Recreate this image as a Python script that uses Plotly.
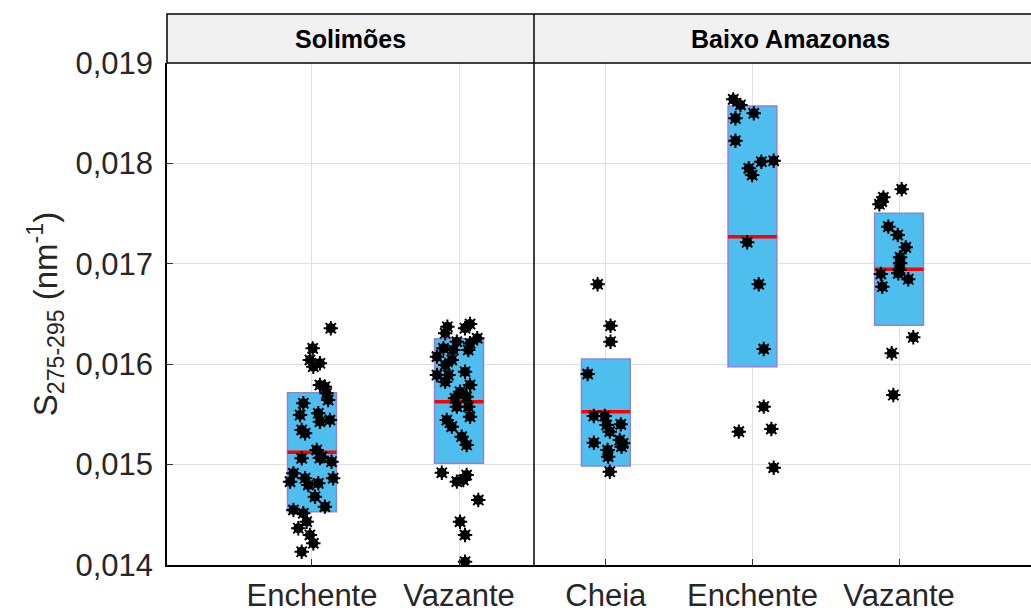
import plotly.graph_objects as go

# ---------------- data ----------------
sol_categories = ["Enchente", "Vazante"]
baixo_categories = ["Cheia", "Enchente", "Vazante"]

# box statistics (q1, median, q3)
sol_q1 = [0.014531, 0.015013]
sol_median = [0.015123, 0.015627]
sol_q3 = [0.015716, 0.016254]

baixo_q1 = [0.014986, 0.015975, 0.016387]
baixo_median = [0.015527, 0.017270, 0.016945]
baixo_q3 = [0.016052, 0.018572, 0.017503]

# individual observations
sol_enchente = [0.016358, 0.016158, 0.016042, 0.016009, 0.015975, 0.015793, 0.015776,
                0.015710, 0.015643, 0.015611, 0.015494, 0.015511, 0.015427, 0.015444,
                0.015345, 0.015312, 0.015145, 0.015079, 0.015063, 0.015029, 0.014913,
                0.014864, 0.014830, 0.014864, 0.014797, 0.014814, 0.014680, 0.014581,
                0.014548, 0.014515, 0.014431, 0.014366, 0.014299, 0.014216, 0.014132,
                0.015066]
sol_enchente_jitter = [0.128, 0.005, -0.014, 0.054, 0.009, 0.054, 0.088, 0.099, 0.110,
                       -0.059, -0.081, 0.043, 0.054, 0.122, -0.070, -0.047, 0.032, 0.066,
                       -0.070, 0.133, -0.126, -0.047, -0.149, 0.144, -0.025, 0.043, 0.020,
                       0.088, -0.126, -0.059, -0.036, -0.093, -0.014, 0.009, -0.070, 0.054]

sol_vazante = [0.016373, 0.016400, 0.016358, 0.016308, 0.016258, 0.016224, 0.016208,
               0.016158, 0.016141, 0.016141, 0.016075, 0.016042, 0.015992, 0.015925,
               0.015892, 0.015892, 0.015826, 0.015793, 0.015726, 0.015660, 0.015676,
               0.015577, 0.015577, 0.015477, 0.015444, 0.015378, 0.015278, 0.015195,
               0.014919, 0.014830, 0.014896, 0.014847, 0.014647, 0.014431, 0.014299,
               0.014033]
sol_vazante_jitter = [-0.079, 0.075, 0.041, -0.094, 0.124, -0.015, 0.075, -0.106, -0.038,
                      0.063, -0.150, -0.049, -0.094, 0.041, -0.150, -0.072, -0.094, 0.075,
                      0.007, -0.027, 0.052, -0.015, 0.063, 0.075, -0.083, -0.049, 0.018,
                      0.052, -0.117, -0.015, 0.052, 0.029, 0.131, 0.007, 0.041, 0.041]

baixo_cheia = [0.016796, 0.016383, 0.016224, 0.015902, 0.015484, 0.015484, 0.015394,
               0.015401, 0.015328, 0.015245, 0.015218, 0.015212, 0.015178, 0.015145,
               0.015079, 0.014929]
baixo_cheia_jitter = [-0.056, 0.032, 0.032, -0.124, -0.082, -0.007, 0.005, 0.102, 0.027,
                      0.095, -0.082, 0.118, 0.107, 0.012, 0.016, 0.027]

baixo_enchente = [0.018638, 0.018582, 0.018449, 0.018499, 0.018226, 0.018017, 0.018027,
                  0.017951, 0.017884, 0.017214, 0.016796, 0.016151, 0.015577, 0.015328,
                  0.015355, 0.014969]
baixo_enchente_jitter = [-0.131, -0.082, -0.116, 0.009, -0.116, 0.061, 0.145, -0.025,
                         -0.002, -0.036, 0.043, 0.077, 0.077, -0.093, 0.129, 0.145]

baixo_vazante = [0.017742, 0.017662, 0.017593, 0.017619, 0.017370, 0.017287, 0.017164,
                 0.017065, 0.017005, 0.016938, 0.016898, 0.016905, 0.016846, 0.016772,
                 0.016268, 0.016109, 0.015693]
baixo_vazante_jitter = [0.018, -0.107, -0.134, -0.118, -0.073, -0.009, 0.046, 0.007, 0.007,
                        0.002, -0.124, -0.005, 0.063, -0.114, 0.097, -0.050, -0.039]

y_ticks = [0.014, 0.015, 0.016, 0.017, 0.018, 0.019]
y_tick_labels = ["0,014", "0,015", "0,016", "0,017", "0,018", "0,019"]

panel_titles = ["Solimões", "Baixo Amazonas"]

# ---------------- styling ----------------
BOX_W = 0.333
BOX_FILL = "#4DBEEE"
BOX_LINE = "#8C84DA"
FONT = "Liberation Sans, Arial, sans-serif"
TXT = "#262626"

fig = go.Figure()


def add_panel(xaxis, q1, med, q3, groups):
    pos = list(range(1, len(q1) + 1))
    fig.add_trace(go.Bar(
        x=pos, base=q1, y=[b - a for a, b in zip(q1, q3)], width=BOX_W,
        marker=dict(color=BOX_FILL, line=dict(color=BOX_LINE, width=1.5)),
        xaxis=xaxis, yaxis="y", showlegend=False, hoverinfo="skip"))
    for p, m in zip(pos, med):
        fig.add_trace(go.Scatter(
            x=[p - BOX_W / 2, p + BOX_W / 2], y=[m, m], mode="lines",
            line=dict(color="#FF0000", width=3.5), xaxis=xaxis, yaxis="y",
            showlegend=False, hoverinfo="skip"))
    for p, (vals, jit) in zip(pos, groups):
        xs = [p + j for j in jit]
        # filled core of the '*' marker
        fig.add_trace(go.Scatter(
            x=xs, y=vals, mode="markers",
            marker=dict(symbol="circle", size=10, color="black", line=dict(width=0)),
            xaxis=xaxis, yaxis="y", showlegend=False, hoverinfo="skip"))
        # spikes of the '*' marker
        fig.add_trace(go.Scatter(
            x=xs, y=vals, mode="markers",
            marker=dict(symbol="asterisk-open", size=12, color="black",
                        line=dict(color="black", width=2)),
            xaxis=xaxis, yaxis="y", showlegend=False))


add_panel("x", sol_q1, sol_median, sol_q3,
          [(sol_enchente, sol_enchente_jitter), (sol_vazante, sol_vazante_jitter)])
add_panel("x2", baixo_q1, baixo_median, baixo_q3,
          [(baixo_cheia, baixo_cheia_jitter), (baixo_enchente, baixo_enchente_jitter),
           (baixo_vazante, baixo_vazante_jitter)])

W, H = 1031, 612
L, R, T, B = 167, 0, 63, 47
plot_w = W - L - R
plot_h = H - T - B
split = (534 - L) / plot_w
header_top = 1 + 49 / plot_h

common_x = dict(showgrid=True, gridcolor="#E0E0E0", gridwidth=1, zeroline=False,
                showline=True, linecolor="black", linewidth=1.5,
                ticks="inside", ticklen=6, tickcolor="#333333",
                tickfont=dict(family=FONT, size=31, color=TXT),
                ticklabelstandoff=2, anchor="y")

fig.update_layout(
    width=W, height=H,
    margin=dict(l=L, r=R, t=T, b=B, pad=0),
    paper_bgcolor="white", plot_bgcolor="white",
    barmode="overlay",
    xaxis=dict(domain=[0, split], range=[0.014, 2.51], tickmode="array",
               tickvals=[1, 2], ticktext=sol_categories, **common_x),
    xaxis2=dict(domain=[split, 1], range=[0.51, 3.9], tickmode="array",
                tickvals=[1, 2, 3], ticktext=baixo_categories, **common_x),
    yaxis=dict(range=[0.014, 0.019], tickmode="array", tickvals=y_ticks,
               ticktext=y_tick_labels, showgrid=True, gridcolor="#E0E0E0",
               zeroline=False, showline=True, linecolor="black", linewidth=1.5,
               ticks="inside", ticklen=6, tickcolor="#333333",
               tickfont=dict(family=FONT, size=31, color=TXT),
               ticklabelstandoff=6, anchor="x",
               title=dict(text="S<sub>275-295</sub> (nm<sup>-1</sup>)",
                          font=dict(family=FONT, size=33, color=TXT),
                          standoff=8)),
    font=dict(family=FONT),
)

# header strip and panel divider
fig.add_shape(type="rect", xref="paper", yref="paper", x0=0, x1=1.01, y0=1, y1=header_top,
              fillcolor="#F0F0F0", line=dict(color="black", width=1.5), layer="above")
fig.add_shape(type="line", xref="paper", yref="paper", x0=split, x1=split, y0=0,
              y1=header_top, line=dict(color="black", width=1.5), layer="above")

centers = [(350 - L) / plot_w, (790 - L) / plot_w]
for txt, cx in zip(panel_titles, centers):
    fig.add_annotation(text=f"<b>{txt}</b>", xref="paper", yref="paper", x=cx,
                       y=(1 + header_top) / 2, xanchor="center", yanchor="middle",
                       showarrow=False,
                       font=dict(family=FONT, size=25, color="black"))

fig.write_html("out.html")
